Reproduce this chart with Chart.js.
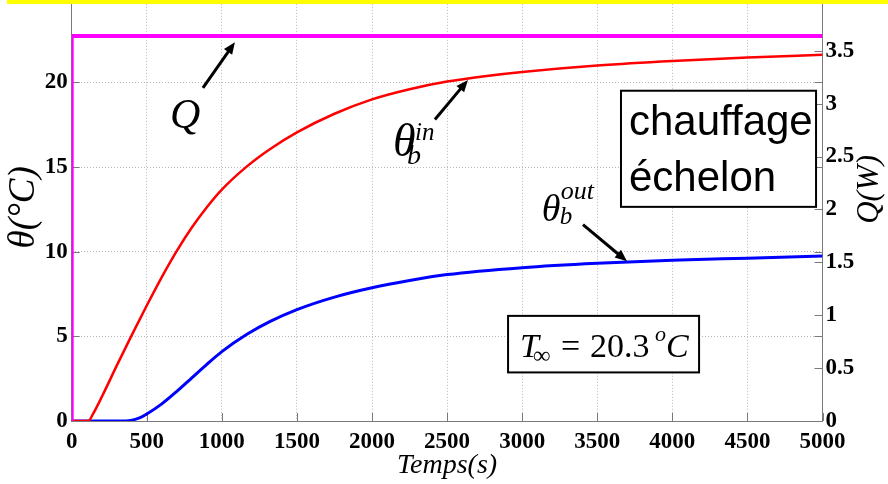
<!DOCTYPE html>
<html>
<head>
<meta charset="utf-8">
<script src="https://cdn.jsdelivr.net/npm/chart.js@4.4.0/dist/chart.umd.min.js"></script>
<style>
    html, body { margin: 0; padding: 0; background: #fff; overflow: hidden; }
    body { width: 888px; height: 484px; position: relative; }
    #wrap { position: absolute; left: 0; top: -20px; width: 888px; height: 504px; }
    #band { position: absolute; left: 7px; top: 0; width: 881px; height: 4px; background: #ffff00; }
</style>
</head>
<body>
<div id="wrap"><canvas id="thermoChart" width="888" height="504"></canvas></div>
<div id="band"></div>
<script>
// Inner bore temperature theta_b^in (°C) against time (s)
const timeIn = [0, 110, 144, 211, 300, 400, 500, 600, 700, 800, 900, 1000, 1167, 1322, 1500, 1750, 2000, 2250, 2500, 2750, 3000, 3500, 4000, 4500, 5000];
const thetaIn = [0, 0, 0.45, 1.62, 3.27, 5.07, 6.82, 8.5, 10.05, 11.43, 12.63, 13.67, 15.04, 16.07, 17.05, 18.15, 19.0, 19.6, 20.05, 20.37, 20.62, 21.0, 21.27, 21.47, 21.63];

// Outer bore temperature theta_b^out (°C)
const timeOut = [0, 360, 456, 500, 600, 700, 800, 900, 1000, 1167, 1322, 1500, 1750, 2000, 2250, 2500, 3000, 3500, 4000, 4500, 5000];
const thetaOut = [0, 0, 0.2, 0.41, 1.01, 1.75, 2.55, 3.35, 4.1, 5.12, 5.88, 6.58, 7.32, 7.87, 8.3, 8.65, 9.06, 9.32, 9.5, 9.62, 9.74];

// Heating step Q (W), right axis
const qTime = [0, 0, 5000];
const qPower = [0, 3.64, 3.64];

// Tick values
const xTickValues = [0, 500, 1000, 1500, 2000, 2500, 3000, 3500, 4000, 4500, 5000];
const thetaTickValues = [0, 5, 10, 15, 20, 25];
const powerTickValues = [0, 0.5, 1, 1.5, 2, 2.5, 3, 3.5, 4];

const toPoints = (xs, ys) => xs.map((x, i) => ({ x: x, y: ys[i] }));
const tickFont = { family: '"Liberation Serif", "Times New Roman", serif', size: 23, weight: 'bold' };
const serif = '"Liberation Serif", "Times New Roman", serif';

function arrow(ctx, x1, y1, x2, y2) {
    const ang = Math.atan2(y2 - y1, x2 - x1);
    const head = 12, half = 5;
    ctx.beginPath();
    ctx.moveTo(x1, y1);
    ctx.lineTo(x2 - head * 0.7 * Math.cos(ang), y2 - head * 0.7 * Math.sin(ang));
    ctx.stroke();
    ctx.beginPath();
    ctx.moveTo(x2, y2);
    ctx.lineTo(x2 - head * Math.cos(ang) + half * Math.sin(ang), y2 - head * Math.sin(ang) - half * Math.cos(ang));
    ctx.lineTo(x2 - head * Math.cos(ang) - half * Math.sin(ang), y2 - head * Math.sin(ang) + half * Math.cos(ang));
    ctx.closePath();
    ctx.fill();
}

// Inward tick marks (matlab style)
const innerTicks = {
    id: 'innerTicks',
    beforeDatasetsDraw(chart) {
        const { ctx, chartArea: a, scales: { x, y, y1 } } = chart;
        ctx.save();
        ctx.strokeStyle = '#7a7a7a';
        ctx.lineWidth = 1;
        const seg = (x1, y1_, x2, y2) => { ctx.beginPath(); ctx.moveTo(x1, y1_); ctx.lineTo(x2, y2); ctx.stroke(); };
        xTickValues.forEach(v => {
            const px = Math.round(x.getPixelForValue(v)) + 0.5;
            seg(px, a.bottom, px, a.bottom - 8);
        });
        thetaTickValues.forEach(v => {
            const py = Math.round(y.getPixelForValue(v)) + 0.5;
            seg(a.left, py, a.left + 8, py);
            seg(a.right, py, a.right - 8, py);
        });
        powerTickValues.forEach(v => {
            const py = Math.round(y1.getPixelForValue(v)) + 0.5;
            seg(a.right, py, a.right - 8, py);
        });
        ctx.restore();
    }
};

// Axis titles, labels, arrows and boxes
const annotations = {
    id: 'annotations',
    afterDraw(chart) {
        const { ctx, chartArea: a, scales: { x, y } } = chart;
        const P = (t, th) => ({ x: x.getPixelForValue(t), y: y.getPixelForValue(th) });
        ctx.save();
        ctx.fillStyle = '#000';
        ctx.strokeStyle = '#000';

        // axis titles
        ctx.textAlign = 'center';
        ctx.textBaseline = 'middle';
        ctx.font = 'italic 37px ' + serif;
        ctx.save();
        ctx.translate(a.left - 47, (a.top + a.bottom) / 2 - 2);
        ctx.rotate(-Math.PI / 2);
        ctx.fillText('θ(°C)', 0, 0);
        ctx.restore();

        ctx.font = 'italic 31px ' + serif;
        ctx.save();
        ctx.translate(a.right + 47, (a.top + a.bottom) / 2 - 20);
        ctx.rotate(-Math.PI / 2);
        ctx.fillText('Q(W)', 0, 0);
        ctx.restore();

        ctx.font = 'italic 28px ' + serif;
        ctx.fillText('Temps(s)', (a.left + a.right) / 2, a.bottom + 45);

        // arrows
        ctx.lineWidth = 3;
        let p1 = P(874, 19.68), p2 = P(1087, 22.38);
        arrow(ctx, p1.x, p1.y, p2.x, p2.y);
        p1 = P(2419, 17.81); p2 = P(2639, 20.15);
        arrow(ctx, p1.x, p1.y, p2.x, p2.y);
        p1 = P(3405, 11.6); p2 = P(3698, 9.43);
        arrow(ctx, p1.x, p1.y, p2.x, p2.y);

        // Q label
        ctx.textBaseline = 'alphabetic';
        let p = P(755, 17.3);
        ctx.textAlign = 'center';
        ctx.font = 'italic 42px ' + serif;
        ctx.fillText('Q', p.x, p.y);
        ctx.textAlign = 'left';

        // theta_b^in
        p = P(2140, 15.64);
        ctx.font = 'italic 46px ' + serif;
        ctx.fillText('θ', p.x, p.y);
        ctx.font = 'italic 28px ' + serif;
        ctx.fillText('b', p.x + 14, p.y + 8);
        ctx.font = 'italic 25px ' + serif;
        ctx.fillText('in', p.x + 22, p.y - 16);

        // theta_b^out
        p = P(3130, 11.83);
        ctx.font = 'italic 38px ' + serif;
        ctx.fillText('θ', p.x, p.y);
        ctx.font = 'italic 25px ' + serif;
        ctx.fillText('b', p.x + 18, p.y + 3);
        ctx.font = 'italic 26px ' + serif;
        ctx.fillText('out', p.x + 19, p.y - 22);

        // "chauffage échelon" box
        ctx.lineWidth = 2;
        let b1 = P(3658, 19.51), b2 = P(4957, 12.65);
        ctx.fillStyle = '#fff';
        ctx.fillRect(b1.x, b1.y, b2.x - b1.x, b2.y - b1.y);
        ctx.strokeRect(b1.x, b1.y, b2.x - b1.x, b2.y - b1.y);
        ctx.fillStyle = '#000';
        ctx.font = '42px "Liberation Sans", Arial, sans-serif';
        ctx.fillText('chauffage', b1.x + 8, b1.y + 44);
        ctx.fillText('échelon', b1.x + 8, b1.y + 100);

        // T_inf box
        b1 = P(2906, 6.21); b2 = P(4178, 2.87);
        ctx.fillStyle = '#fff';
        ctx.fillRect(b1.x, b1.y, b2.x - b1.x, b2.y - b1.y);
        ctx.strokeRect(b1.x, b1.y, b2.x - b1.x, b2.y - b1.y);
        ctx.fillStyle = '#000';
        const bl = b1.y + 41;
        ctx.font = 'italic 34px ' + serif;
        ctx.fillText('T', b1.x + 12, bl);
        ctx.font = 'bold 24px ' + serif;
        ctx.fillText('∞', b1.x + 25, bl + 6);
        ctx.font = '34px ' + serif;
        ctx.fillText('=', b1.x + 53, bl);
        ctx.fillText('20.3', b1.x + 82, bl);
        ctx.font = 'italic 22px ' + serif;
        ctx.fillText('o', b1.x + 147, bl - 16);
        ctx.font = 'italic 34px ' + serif;
        ctx.fillText('C', b1.x + 158, bl);
        ctx.restore();
    }
};

const ctx = document.getElementById('thermoChart');

const thermoChart = new Chart(ctx, {
    type: 'scatter',
    data: {
        datasets: [
            {
                label: 'Q',
                data: toPoints(qTime, qPower),
                yAxisID: 'y1',
                showLine: true,
                borderColor: '#ff00ff',
                borderWidth: 4,
                pointRadius: 0,
                tension: 0
            },
            {
                label: 'theta_b_in',
                data: toPoints(timeIn, thetaIn),
                yAxisID: 'y',
                showLine: true,
                borderColor: '#ff0000',
                borderWidth: 2.5,
                pointRadius: 0,
                cubicInterpolationMode: 'monotone'
            },
            {
                label: 'theta_b_out',
                data: toPoints(timeOut, thetaOut),
                yAxisID: 'y',
                showLine: true,
                borderColor: '#0000ff',
                borderWidth: 3,
                pointRadius: 0,
                cubicInterpolationMode: 'monotone'
            }
        ]
    },
    options: {
        responsive: false,
        animation: false,
        layout: { padding: { top: 16.5, left: 0, right: 0, bottom: 0 } },
        plugins: {
            legend: { display: false },
            tooltip: { enabled: false }
        },
        scales: {
            x: {
                type: 'linear',
                min: 0,
                max: 5000,
                afterBuildTicks: s => { s.ticks = xTickValues.map(v => ({ value: v })); },
                afterFit: s => { s.height = 63; },
                grid: { color: '#b8b8b8', lineWidth: 1, drawTicks: false },
                border: { color: '#7a7a7a', width: 1, dash: [1, 2] },
                ticks: {
                    font: tickFont,
                    color: '#000',
                    padding: 7,
                    maxRotation: 0,
                    autoSkip: false,
                    callback: v => String(v)
                }
            },
            y: {
                position: 'left',
                min: 0,
                max: 25,
                afterBuildTicks: s => { s.ticks = thetaTickValues.map(v => ({ value: v })); },
                afterFit: s => { s.width = 71.7; },
                grid: { color: '#b8b8b8', lineWidth: 1, drawTicks: false },
                border: { color: '#7a7a7a', width: 1, dash: [1, 2] },
                ticks: { font: tickFont, color: '#000', padding: 4, callback: v => String(v) }
            },
            y1: {
                position: 'right',
                min: 0,
                max: 4,
                afterBuildTicks: s => { s.ticks = powerTickValues.map(v => ({ value: v })); },
                afterFit: s => { s.width = 65.5; },
                grid: { drawOnChartArea: false, drawTicks: false },
                border: { color: '#7a7a7a', width: 1 },
                ticks: { font: tickFont, color: '#000', padding: 3, callback: v => String(v) }
            }
        }
    },
    plugins: [innerTicks, annotations]
});
</script>
</body>
</html>
